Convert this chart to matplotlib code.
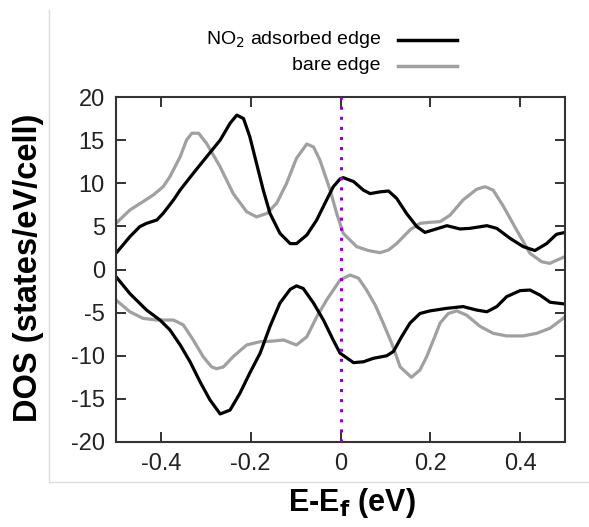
import matplotlib.pyplot as plt
from matplotlib.lines import Line2D

plt.rcParams['font.family'] = ['Liberation Sans', 'DejaVu Sans']

# Energy grids (eV) and DOS values (states/eV/cell), spin up (>0) and spin down (<0)
e_ads_up = [-0.500, -0.469, -0.447, -0.432, -0.409, -0.395, -0.372, -0.357, -0.328,
            -0.298, -0.268, -0.246, -0.231, -0.216, -0.202, -0.187, -0.172, -0.157,
            -0.135, -0.112, -0.098, -0.075, -0.053, -0.031, -0.016, -0.001,
            0.006, 0.029, 0.051, 0.066, 0.088, 0.107, 0.125, 0.147, 0.170, 0.188,
            0.207, 0.237, 0.266, 0.288, 0.326, 0.348, 0.378, 0.407, 0.433, 0.459,
            0.481, 0.500]
dos_ads_up = [1.88, 3.81, 4.97, 5.35, 5.74, 6.51, 8.06, 9.22, 11.15,
              13.08, 15.0, 16.95, 17.9, 17.5, 15.4, 12.3, 9.2, 6.5,
              4.2, 3.0, 3.0, 4.0, 5.74, 8.06, 9.6, 10.5,
              10.65, 10.2, 9.2, 8.8, 9.0, 9.1, 8.25, 6.5, 4.97, 4.3,
              4.6, 5.08, 4.7, 4.77, 5.08, 4.77, 3.6, 2.65, 2.2, 3.0,
              4.08, 4.3]

e_bare_up = [-0.500, -0.469, -0.440, -0.417, -0.395, -0.380, -0.357, -0.343, -0.331,
             -0.316, -0.298, -0.268, -0.239, -0.209, -0.187, -0.164, -0.142, -0.120,
             -0.098, -0.075, -0.060, -0.046, -0.023, -0.0085, 0.006, 0.036, 0.062,
             0.088, 0.107, 0.125, 0.155, 0.177, 0.199, 0.222, 0.244, 0.273, 0.303,
             0.322, 0.340, 0.363, 0.392, 0.422, 0.448, 0.466, 0.500]
dos_bare_up = [5.35, 6.9, 7.86, 8.64, 9.6, 10.76, 13.08, 15.0, 15.8,
               15.8, 14.6, 11.9, 8.8, 6.7, 6.1, 6.5, 7.7, 10.0,
               12.9, 14.55, 14.2, 12.7, 9.2, 6.5, 4.2, 2.65, 2.2,
               1.95, 2.26, 3.0, 4.6, 5.35, 5.47, 5.55, 6.3, 8.06, 9.3,
               9.6, 9.2, 7.3, 4.6, 1.88, 0.9, 0.71, 1.5]

e_ads_dn = [-0.500, -0.469, -0.432, -0.402, -0.380, -0.357, -0.335, -0.313, -0.291,
            -0.268, -0.246, -0.224, -0.202, -0.179, -0.157, -0.135, -0.112, -0.098,
            -0.083, -0.060, -0.038, -0.016, -0.001, 0.029, 0.051, 0.073, 0.103,
            0.118, 0.136, 0.155, 0.177, 0.199, 0.237, 0.273, 0.303, 0.326, 0.348,
            0.370, 0.400, 0.422, 0.444, 0.467, 0.500]
dos_ads_dn = [-0.83, -2.8, -4.7, -5.86, -7.0, -8.75, -10.7, -13.0, -15.1,
              -16.75, -16.3, -14.35, -12.0, -9.7, -6.6, -3.9, -2.3, -1.9,
              -2.2, -3.9, -5.86, -8.2, -9.7, -10.8, -10.7, -10.3, -10.0,
              -9.5, -7.8, -6.2, -5.1, -4.8, -4.5, -4.3, -4.7, -4.9, -4.3,
              -3.15, -2.45, -2.38, -2.96, -3.8, -4.0]

e_bare_dn = [-0.500, -0.469, -0.440, -0.410, -0.372, -0.350, -0.328, -0.306, -0.287,
             -0.276, -0.261, -0.239, -0.209, -0.179, -0.150, -0.127, -0.098, -0.075,
             -0.053, -0.031, -0.016, -0.001, 0.021, 0.040, 0.058, 0.077, 0.095,
             0.114, 0.133, 0.158, 0.177, 0.192, 0.207, 0.222, 0.240, 0.259, 0.281,
             0.311, 0.340, 0.370, 0.407, 0.437, 0.467, 0.500]
dos_bare_dn = [-3.54, -4.9, -5.66, -5.86, -5.86, -6.43, -8.17, -10.1, -11.3,
               -11.5, -11.3, -10.1, -8.75, -8.37, -8.3, -8.17, -8.75, -7.8,
               -5.5, -3.54, -2.38, -1.22, -0.64, -1.0, -2.38, -4.1, -6.2,
               -8.55, -11.3, -12.5, -11.65, -10.1, -8.17, -6.2, -5.1, -4.8, -5.3,
               -6.6, -7.4, -7.7, -7.7, -7.4, -6.8, -5.5]

labels = ['NO$_2$ adsorbed edge', 'bare edge']
colors = ['black', '#a0a0a0']

fig = plt.figure(figsize=(5.89, 5.27), dpi=100)
ax = fig.add_axes([116 / 589, 85 / 527, 449 / 589, 345 / 527])

# faint frame lines around the panel
fig.add_artist(Line2D([48.5 / 589, 48.5 / 589], [45 / 527, 517 / 527],
                      color='#dcdcdc', lw=1.0))
fig.add_artist(Line2D([48.5 / 589, 1.0], [45 / 527, 45 / 527],
                      color='#dcdcdc', lw=1.0))

lw = 2.3
kw = dict(lw=lw, solid_joinstyle='round', solid_capstyle='butt')
ax.plot(e_bare_up, dos_bare_up, color=colors[1], **kw)
ax.plot(e_bare_dn, dos_bare_dn, color=colors[1], **kw)
ax.plot(e_ads_up, dos_ads_up, color=colors[0], **kw)
ax.plot(e_ads_dn, dos_ads_dn, color=colors[0], **kw)

# Fermi level
ax.axvline(0, color='#9400D3', lw=2.2, linestyle=(0, (1, 2.3)), zorder=5)

ax.set_xlim(-0.5, 0.5)
ax.set_ylim(-20, 20)
ax.set_xticks([-0.4, -0.2, 0, 0.2, 0.4])
ax.set_xticklabels(['-0.4', '-0.2', '0', '0.2', '0.4'])
ax.set_yticks(range(-20, 21, 5))
ax.set_yticklabels([str(v) for v in range(-20, 21, 5)])
ax.tick_params(direction='in', length=7, width=1.3, colors='#222222',
               top=True, right=True, labelsize=17, pad=8)
for s in ax.spines.values():
    s.set_color('#333333')
    s.set_linewidth(1.5)

fig.text(29 / 589, 1 - 268 / 527, 'DOS (states/eV/cell)', rotation=90,
         fontsize=23.5, fontweight='bold', ha='center', va='center')
fig.text(352 / 589, 1 - 503 / 527, 'E-E$_\\mathbf{f}$ (eV)',
         fontsize=22, fontweight='bold', ha='center', va='center')

# legend drawn as text plus line samples above the axes
for i, (lab, col) in enumerate(zip(labels, colors)):
    y = 1 - (40 + 26 * i) / 527
    fig.text(381 / 589, y, lab, fontsize=14, ha='right', va='center')
    fig.add_artist(Line2D([398 / 589, 457 / 589], [y, y], color=col, lw=2.5))

fig.savefig('out.png', dpi=100)
